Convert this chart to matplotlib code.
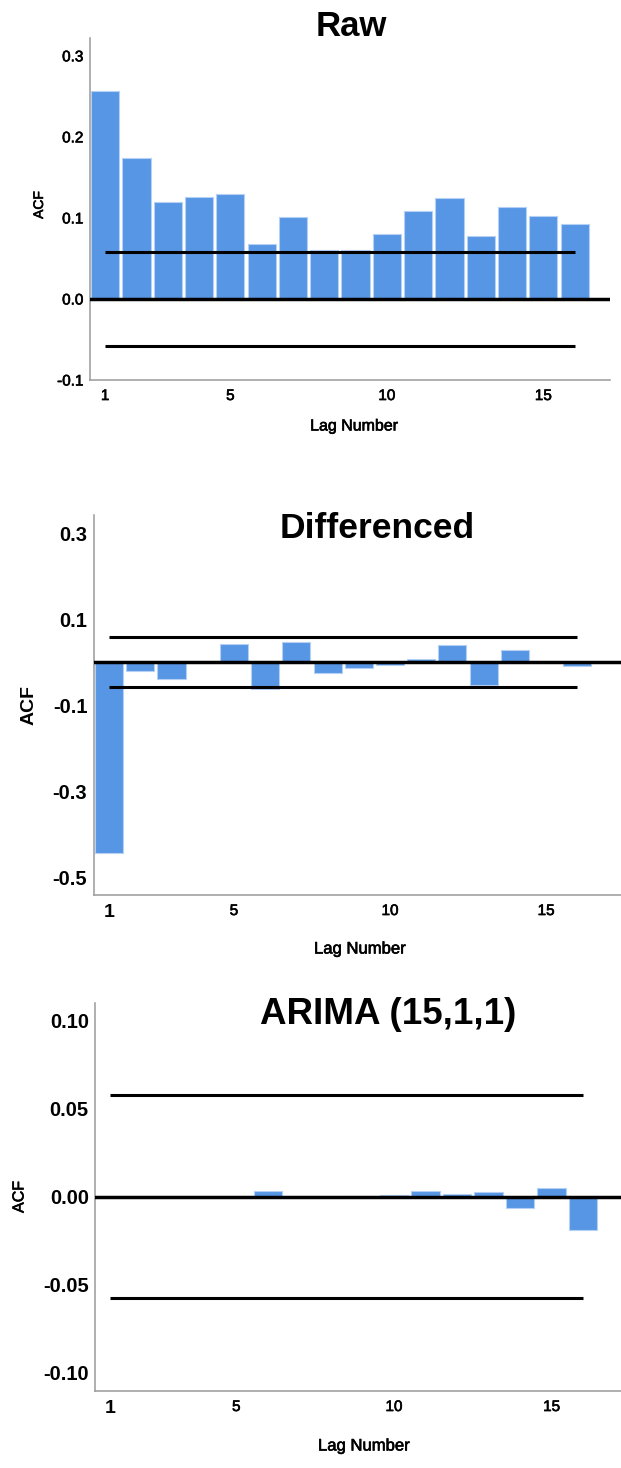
import matplotlib
matplotlib.use("Agg")
import matplotlib.pyplot as plt
import matplotlib.patheffects as pe

plt.rcParams['font.family'] = ['Liberation Sans', 'DejaVu Sans']

# ---- data -------------------------------------------------------------
lags = list(range(1, 17))

acf_raw = [0.256, 0.174, 0.120, 0.126, 0.129, 0.068, 0.101, 0.061,
           0.060, 0.080, 0.109, 0.124, 0.078, 0.113, 0.102, 0.093]
acf_diff = [-0.443, -0.020, -0.039, 0.000, 0.042, -0.063, 0.048, -0.026,
            -0.014, -0.006, 0.008, 0.040, -0.053, 0.029, 0.000, -0.008]
acf_arima = [0.0002, 0.0001, 0.0002, 0.0005, 0.0001, 0.0030, 0.0001, -0.0005,
             0.0001, 0.0007, 0.0032, 0.0015, 0.0025, -0.0066, 0.0046, -0.0188]

conf_raw = 0.0577
conf_diff = 0.0577
conf_arima = 0.0577

titles = ["Raw", "Differenced", "ARIMA (15,1,1)"]
raw_yticks = [-0.1, 0.0, 0.1, 0.2, 0.3]
raw_yticklabels = ["-0.1", "0.0", "0.1", "0.2", "0.3"]
diff_yticks = [-0.5, -0.3, -0.1, 0.1, 0.3]
diff_yticklabels = ["-0.5", "-0.3", "-0.1", "0.1", "0.3"]
arima_yticks = [-0.10, -0.05, 0.0, 0.05, 0.10]
arima_yticklabels = ["-0.10", "-0.05", "0.00", "0.05", "0.10"]
xticks = [1, 5, 10, 15]
xticklabels = ["1", "5", "10", "15"]

# ---- figure -----------------------------------------------------------
W, H = 621, 1468
fig = plt.figure(figsize=(W / 100, H / 100), dpi=100)

BAR = "#5696e4"
EDGE = "#b4d0f5"
SPINE = "#9a9a9a"
SEMI = [pe.withStroke(linewidth=0.45, foreground="black")]


def px_axes(left, top, right, bottom):
    return fig.add_axes([left / W, 1 - bottom / H, (right - left) / W, (bottom - top) / H])


def ftext(x, y, s, **kw):
    fig.text(x / W, 1 - y / H, s, ha="center", va="center", **kw)


def draw_panel(ax, values, conf, xlim, ylim, yticks, yticklabels,
               ysize, yweight, one_size, one_weight):
    ax.bar(lags, values, width=0.9, color=BAR, edgecolor=EDGE, linewidth=0.8, zorder=2)
    ax.axhline(0, color="black", linewidth=2.5, zorder=4)
    ax.plot([lags[0], lags[-1]], [conf, conf], color="black", linewidth=2.2,
            solid_capstyle="butt", zorder=4)
    ax.plot([lags[0], lags[-1]], [-conf, -conf], color="black", linewidth=2.2,
            solid_capstyle="butt", zorder=4)
    ax.set_xlim(*xlim)
    ax.set_ylim(*ylim)
    for side in ("top", "right"):
        ax.spines[side].set_visible(False)
    for side in ("left", "bottom"):
        ax.spines[side].set_color(SPINE)
        ax.spines[side].set_linewidth(1.1)
    ax.set_yticks(yticks)
    ax.set_yticklabels(yticklabels, fontsize=ysize, fontweight=yweight)
    if yweight == "normal":
        for t in ax.get_yticklabels():
            t.set_path_effects(SEMI)
    ax.set_xticks(xticks)
    ax.set_xticklabels(xticklabels, fontsize=11)
    for t in ax.get_xticklabels():
        t.set_path_effects(SEMI)
    lab = ax.get_xticklabels()[0]
    lab.set_fontsize(one_size)
    lab.set_fontweight(one_weight)
    if one_weight == "bold":
        lab.set_path_effects([])
    ax.tick_params(axis="y", length=0, pad=4.5)
    ax.tick_params(axis="x", length=0, pad=6.5, labelcolor="black")


# Raw series
ax1 = px_axes(89.5, 38, 610, 380)
draw_panel(ax1, acf_raw, conf_raw, (0.5, 17.13), (-0.1, 0.322),
           raw_yticks, raw_yticklabels, 11, "normal", 11, "normal")
ftext(351, 26, titles[0], fontsize=25, fontweight="bold")
ftext(39, 205, "ACF", fontsize=10, rotation=90, path_effects=SEMI)
ftext(354, 426, "Lag Number", fontsize=11.5, path_effects=SEMI)

# Differenced series
ax2 = px_axes(93.5, 515, 621, 895)
draw_panel(ax2, acf_diff, conf_diff, (0.5, 17.4), (-0.541, 0.342),
           diff_yticks, diff_yticklabels, 14.5, "bold", 14, "bold")
ftext(377, 529, titles[1], fontsize=25.5, fontweight="bold")
ftext(29, 705, "ACF", fontsize=14, fontweight="bold", rotation=90)
ftext(360, 949, "Lag Number", fontsize=12, path_effects=SEMI)

# ARIMA residuals
ax3 = px_axes(95, 1003, 621, 1391)
draw_panel(ax3, acf_arima, conf_arima, (0.52, 17.2), (-0.1105, 0.110),
           arima_yticks, arima_yticklabels, 14.5, "bold", 14, "bold")
ftext(388, 1014, titles[2], fontsize=26.5, fontweight="bold")
ftext(19, 1197, "ACF", fontsize=11.5, rotation=90, path_effects=SEMI)
ftext(364, 1446, "Lag Number", fontsize=12, path_effects=SEMI)

fig.savefig("out.png", dpi=100)
